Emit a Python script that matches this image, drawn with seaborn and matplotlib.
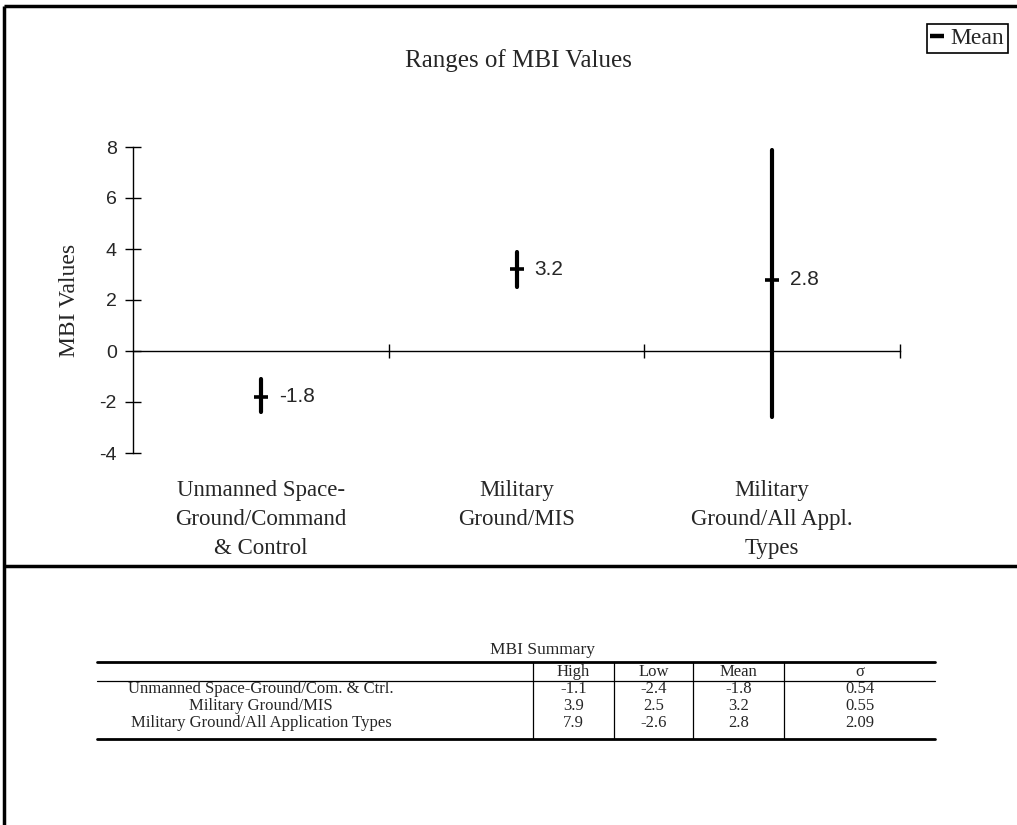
import matplotlib
matplotlib.use("Agg")
import matplotlib.pyplot as plt
from matplotlib.lines import Line2D
import seaborn as sns
import pandas as pd

# ---- data ----
categories = [
    "Unmanned Space-\nGround/Command\n& Control",
    "Military\nGround/MIS",
    "Military\nGround/All Appl.\nTypes",
]
table_rows = [
    "Unmanned Space-Ground/Com. & Ctrl.",
    "Military Ground/MIS",
    "Military Ground/All Application Types",
]
high = [-1.1, 3.9, 7.9]
low = [-2.4, 2.5, -2.6]
mean = [-1.8, 3.2, 2.8]
sigma = [0.54, 0.55, 2.09]
col_headers = ["High", "Low", "Mean", "\u03c3"]
y_ticks = [-4, -2, 0, 2, 4, 6, 8]

df = pd.DataFrame({
    "pos": [0.5, 1.5, 2.5],
    "high": high,
    "low": low,
    "mean": mean,
})

sns.set_theme(style="white")
plt.rcParams["font.family"] = ["Liberation Serif", "DejaVu Serif"]
SANS = ["Liberation Sans", "DejaVu Sans"]

W, H = 1017, 825
fig = plt.figure(figsize=(W / 100, H / 100), dpi=100)
fig.patch.set_facecolor("white")

# overlay for frame lines and the summary table (pixel coordinates)
bg = fig.add_axes([0, 0, 1, 1])
bg.set_xlim(0, W)
bg.set_ylim(H, 0)
bg.axis("off")

# main chart axes
ax = fig.add_axes([133 / W, 1 - 453 / H, (900 - 133) / W, (453 - 147) / H])
ax.set_facecolor("none")
ax.set_xlim(0, 3)
ax.set_ylim(-4, 8)

# ranges as thick vertical bars
ax.vlines(df["pos"], df["low"], df["high"], colors="black",
          linewidth=3.0, capstyle="round", zorder=3)
# mean ticks
sns.scatterplot(data=df, x="pos", y="mean", marker="_", s=90,
                color="black", linewidth=2.6, ax=ax, zorder=4, legend=False)
for p, m in zip(df["pos"], df["mean"]):
    ax.annotate(f"{m:.1f}", (p, m), xytext=(13, 0), textcoords="offset points",
                ha="left", va="center", fontsize=15, family=SANS)

# axes styling
for side in ("top", "right"):
    ax.spines[side].set_visible(False)
ax.spines["bottom"].set_position(("data", 0))
for side in ("left", "bottom"):
    ax.spines[side].set_color("black")
    ax.spines[side].set_linewidth(1.0)
ax.set_yticks(y_ticks)
ax.set_yticklabels([str(t) for t in y_ticks], family=SANS, fontsize=14)
ax.tick_params(axis="y", direction="inout", length=11.5, width=1.0,
               color="black", pad=6, left=True)
ax.set_xticks([1, 2, 3])
ax.set_xticklabels([])
ax.tick_params(axis="x", direction="inout", length=10, width=1.0,
               color="black", bottom=True)
ax.set_xlabel("")
ax.set_ylabel("MBI Values", fontsize=17, labelpad=14)

# category labels below the chart
for p, lab in zip(df["pos"], categories):
    ax.text(p, -(480 - 453) / 306, lab, transform=ax.get_xaxis_transform(),
            ha="center", va="top", fontsize=16.5, linespacing=1.5)

fig.text(518 / W, 1 - 61 / H, "Ranges of MBI Values", ha="center",
         va="center", fontsize=18)

# legend
handle = Line2D([], [], color="black", marker="_", linestyle="None",
                markersize=10, markeredgewidth=3.2)
leg = fig.legend([handle], ["Mean"], loc="upper right",
                 bbox_to_anchor=(1008 / W, 1 - 24 / H), frameon=True,
                 fancybox=False, framealpha=1, edgecolor="black",
                 fontsize=17, borderpad=0.15, handlelength=0.55,
                 handletextpad=0.3, borderaxespad=0)
leg.get_frame().set_linewidth(1.2)

# outer frame lines and separator
bg.plot([4, W], [6, 6], color="black", lw=2.5, solid_capstyle="butt")
bg.plot([4, 4], [6, H], color="black", lw=2.5, solid_capstyle="butt")
bg.plot([4, W], [566, 566], color="black", lw=2.5, solid_capstyle="butt")

# summary table
tx0, tx1 = 97, 935
y_top, y_head, y_bot = 662, 681, 739
col_edges = [533, 614, 693, 784, tx1]
FS = 12
bg.text(543, 650, "MBI Summary", ha="center", va="center", fontsize=FS + 0.5)
bg.plot([tx0, tx1], [y_top, y_top], color="black", lw=2.0)
bg.plot([tx0, tx1], [y_head, y_head], color="black", lw=0.9)
bg.plot([tx0, tx1], [y_bot, y_bot], color="black", lw=2.0)
for x in col_edges[:-1]:
    bg.plot([x, x], [y_top, y_bot], color="black", lw=0.9)
col_centers = [(a + b) / 2 for a, b in zip(col_edges[:-1], col_edges[1:])]
for cx, hdr in zip(col_centers, col_headers):
    bg.text(cx, 672, hdr, ha="center", va="center", fontsize=FS)
row_ys = [689, 706, 723]
for ry, name, h, l, m, s in zip(row_ys, table_rows, high, low, mean, sigma):
    bg.text(261, ry, name, ha="center", va="center", fontsize=FS)
    for cx, val in zip(col_centers, [f"{h:.1f}", f"{l:.1f}", f"{m:.1f}", f"{s:.2f}"]):
        bg.text(cx, ry, val, ha="center", va="center", fontsize=FS)

fig.savefig("out.png", dpi=100, facecolor="white")
